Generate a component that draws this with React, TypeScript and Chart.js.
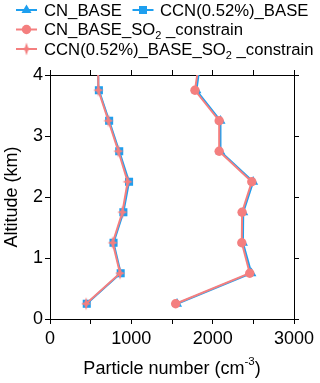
import React, { useEffect, useRef } from 'react';
import { Chart, registerables } from 'chart.js';
Chart.register(...registerables);

// Altitude levels (km); last level lies above the axis top and is clipped
const altitudes = [0.25, 0.75, 1.25, 1.75, 2.25, 2.75, 3.25, 3.75, 4.25];
const cnBase = [1562, 2476, 2372, 2376, 2498, 2093, 2096, 1800, 1852];
const ccnBase = [452, 869, 781, 902, 972, 851, 727, 601, 594];
const cnBaseSO2 = [1545, 2456, 2358, 2362, 2481, 2080, 2080, 1782, 1838];
const ccnBaseSO2 = [444, 861, 771, 890, 955, 841, 718, 595, 590];

const xMajorLabels = [0, 1000, 2000, 3000];
const yTickLabels = [0, 1, 2, 3, 4];

const seriesNames = ['CN_BASE', 'CCN(0.52%)_BASE', 'CN_BASE_SO2_constrain', 'CCN(0.52%)_BASE_SO2_constrain'];

const BLUE = '#1E9FEF';
const RED = '#F47F7F';
const FONT = '"Liberation Sans", Arial, sans-serif';

function makeStar(color: string): HTMLCanvasElement {
  const c = document.createElement('canvas');
  c.width = 12;
  c.height = 14;
  const g = c.getContext('2d')!;
  const cx = 6, cy = 7;
  g.fillStyle = color;
  g.beginPath();
  g.moveTo(cx, cy - 6.5);
  g.lineTo(cx + 1.6, cy - 1.6);
  g.lineTo(cx + 5, cy);
  g.lineTo(cx + 1.6, cy + 1.6);
  g.lineTo(cx, cy + 6.5);
  g.lineTo(cx - 1.6, cy + 1.6);
  g.lineTo(cx - 5, cy);
  g.lineTo(cx - 1.6, cy - 1.6);
  g.closePath();
  g.fill();
  return c;
}

function pts(vals: number[]) {
  return vals.map((v, i) => ({ x: v, y: altitudes[i] }));
}

type Part = { t: string; size: number; dy: number };

function drawRich(ctx: CanvasRenderingContext2D, parts: Part[], x: number, y: number, align: 'left' | 'center') {
  let total = 0;
  const widths = parts.map((p) => {
    ctx.font = `${p.size}px ${FONT}`;
    const w = ctx.measureText(p.t).width;
    total += w;
    return w;
  });
  let cx = align === 'center' ? x - total / 2 : x;
  ctx.textAlign = 'left';
  ctx.textBaseline = 'alphabetic';
  parts.forEach((p, i) => {
    ctx.font = `${p.size}px ${FONT}`;
    ctx.fillText(p.t, cx, y + p.dy);
    cx += widths[i];
  });
}

function drawMarker(ctx: CanvasRenderingContext2D, kind: string, x: number, y: number, color: string, star: HTMLCanvasElement) {
  ctx.strokeStyle = color;
  ctx.lineWidth = 2;
  ctx.beginPath();
  ctx.moveTo(x - 10.5, y);
  ctx.lineTo(x + 10.5, y);
  ctx.stroke();
  ctx.fillStyle = color;
  ctx.beginPath();
  if (kind === 'triangle') {
    ctx.moveTo(x, y - 5.5);
    ctx.lineTo(x + 5, y + 3);
    ctx.lineTo(x - 5, y + 3);
    ctx.closePath();
    ctx.fill();
  } else if (kind === 'rect') {
    ctx.fillRect(x - 4, y - 4, 8, 8);
  } else if (kind === 'circle') {
    ctx.arc(x, y, 4.7, 0, Math.PI * 2);
    ctx.fill();
  } else {
    ctx.drawImage(star, x - star.width / 2, y - star.height / 2);
  }
}

export default function App() {
  const ref = useRef<HTMLCanvasElement | null>(null);

  useEffect(() => {
    document.body.style.margin = '0';
    const canvas = ref.current!;
    const star = makeStar(RED);

    const overlay = {
      id: 'overlay',
      afterDraw(chart: any) {
        const ctx: CanvasRenderingContext2D = chart.ctx;
        const a = chart.chartArea;
        ctx.save();
        ctx.fillStyle = '#000';
        // legend
        const sub = (s: string): Part[] => {
          const idx = s.indexOf('SO2');
          if (idx < 0) return [{ t: s, size: 16.7, dy: 0 }];
          return [
            { t: s.slice(0, idx + 2), size: 16.7, dy: 0 },
            { t: '2', size: 11, dy: 4 },
            { t: ' ' + s.slice(idx + 3), size: 16.7, dy: 0 },
          ];
        };
        drawMarker(ctx, 'triangle', 26.5, 10, BLUE, star);
        ctx.fillStyle = '#000';
        drawRich(ctx, sub(seriesNames[0]), 44, 15.5, 'left');
        drawMarker(ctx, 'rect', 143, 10, BLUE, star);
        ctx.fillStyle = '#000';
        drawRich(ctx, sub(seriesNames[1]), 160, 15.5, 'left');
        drawMarker(ctx, 'circle', 26.5, 29.5, RED, star);
        ctx.fillStyle = '#000';
        drawRich(ctx, sub(seriesNames[2]), 44, 35, 'left');
        drawMarker(ctx, 'star', 26.5, 49, RED, star);
        ctx.fillStyle = '#000';
        drawRich(ctx, sub(seriesNames[3]), 44, 55, 'left');

        // x title
        drawRich(
          ctx,
          [
            { t: 'Particle number (cm', size: 18, dy: 0 },
            { t: '-3', size: 11.5, dy: -9 },
            { t: ')', size: 18, dy: 0 },
          ],
          (a.left + a.right) / 2,
          374,
          'center'
        );
        // y title
        ctx.translate(16.5, (a.top + a.bottom) / 2);
        ctx.rotate(-Math.PI / 2);
        ctx.font = `18px ${FONT}`;
        ctx.textAlign = 'center';
        ctx.textBaseline = 'alphabetic';
        ctx.fillText('Altitude (km)', 0, 0);
        ctx.restore();
      },
    };

    const axisCommon = {
      grid: {
        display: true,
        drawOnChartArea: false,
        drawTicks: true,
        tickLength: 5,
        color: '#000',
        tickColor: '#000',
        lineWidth: 1,
      },
      border: { display: true, color: '#000', width: 1 },
    };

    const chart = new Chart(canvas, {
      type: 'scatter',
      data: {
        datasets: [
          {
            label: seriesNames[0],
            data: pts(cnBase),
            showLine: true,
            borderColor: BLUE,
            backgroundColor: BLUE,
            borderWidth: 2,
            pointStyle: 'triangle',
            pointRadius: 5.8,
            pointBorderWidth: 0,
            order: 2,
          },
          {
            label: seriesNames[1],
            data: pts(ccnBase),
            showLine: true,
            borderColor: BLUE,
            backgroundColor: BLUE,
            borderWidth: 2,
            pointStyle: 'rect',
            pointRadius: 5.7,
            pointBorderWidth: 0,
            order: 2,
          },
          {
            label: seriesNames[2],
            data: pts(cnBaseSO2),
            showLine: true,
            borderColor: RED,
            backgroundColor: RED,
            borderWidth: 2,
            pointStyle: 'circle',
            pointRadius: 4.7,
            pointBorderWidth: 0,
            order: 1,
          },
          {
            label: seriesNames[3],
            data: pts(ccnBaseSO2),
            showLine: true,
            borderColor: RED,
            backgroundColor: RED,
            borderWidth: 2,
            pointStyle: star as any,
            pointRadius: 5,
            pointBorderWidth: 0,
            order: 1,
          },
        ],
      },
      options: {
        animation: false,
        responsive: false,
        devicePixelRatio: 1,
        events: [],
        layout: { padding: { top: 70, right: 21, left: 0, bottom: 0 } },
        plugins: { legend: { display: false }, tooltip: { enabled: false }, title: { display: false } },
        scales: {
          x: {
            type: 'linear',
            position: 'bottom',
            min: 0,
            max: 3000,
            ticks: {
              stepSize: 500,
              autoSkip: false,
              maxRotation: 0,
              padding: 4,
              color: '#000',
              font: { family: FONT, size: 18 },
              callback: (v: any) => (xMajorLabels.includes(Number(v)) ? String(v) : ''),
            },
            ...axisCommon,
            afterFit: (s: any) => {
              s.height = 64;
            },
          },
          x2: {
            type: 'linear',
            position: 'top',
            min: 0,
            max: 3000,
            ticks: { stepSize: 500, autoSkip: false, display: false },
            ...axisCommon,
            afterFit: (s: any) => {
              s.height = 5;
            },
          },
          y: {
            type: 'linear',
            position: 'left',
            min: 0,
            max: 4,
            ticks: {
              stepSize: 1,
              autoSkip: false,
              padding: 2,
              color: '#000',
              font: { family: FONT, size: 18 },
              callback: (v: any) => (yTickLabels.includes(Number(v)) ? String(v) : ''),
            },
            ...axisCommon,
            afterFit: (s: any) => {
              s.width = 50;
            },
          },
          y2: {
            type: 'linear',
            position: 'right',
            min: 0,
            max: 4,
            ticks: { stepSize: 1, autoSkip: false, display: false },
            ...axisCommon,
            afterFit: (s: any) => {
              s.width = 5;
            },
          },
        },
      } as any,
      plugins: [overlay],
    });
    return () => chart.destroy();
  }, []);

  return (
    <div style={{ width: 320, height: 383 }}>
      <canvas ref={ref} width={320} height={383} style={{ display: 'block', width: 320, height: 383 }} />
    </div>
  );
}
